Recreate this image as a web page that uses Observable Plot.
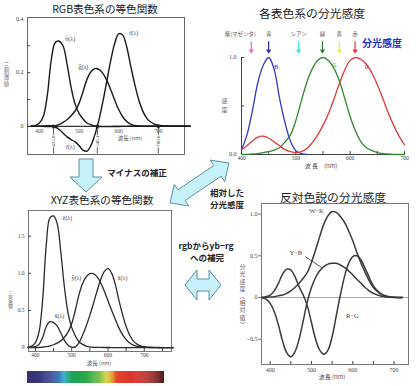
<!DOCTYPE html>
<html><head><meta charset="utf-8">
<script src="https://cdn.jsdelivr.net/npm/d3@7"></script>
<script src="https://cdn.jsdelivr.net/npm/@observablehq/plot@0.6"></script>
<style>
body{margin:0;background:#fff;}
#root{position:relative;width:416px;height:386px;overflow:hidden;background:#fff;font-family:"Noto Sans CJK JP",sans-serif;}
.abs{position:absolute;white-space:nowrap;line-height:1;}
.title{color:#1a1a1a;transform:translate(-50%,-50%);}
.note{font-size:8.5px;font-weight:bold;color:#222;transform:translate(-50%,-50%);}
.vert{color:#666;writing-mode:vertical-rl;text-orientation:upright;}
.axt{font-size:6px;color:#555;transform:translate(-50%,-50%);}
</style></head><body><div id="root"></div>
<script>
// ---------- data ----------
const WL_CIE = [380,390,400,410,420,430,440,450,460,470,480,490,500,510,520,530,540,550,560,570,580,590,600,610,620,630,640,650,660,670,680,690,700,710,720,730,740,750,760,770,780];
const rBar = [0.00003,0.0001,0.0003,0.00084,0.00211,0.00218,-0.00261,-0.01213,-0.02608,-0.03933,-0.04939,-0.05814,-0.07173,-0.08901,-0.09264,-0.07101,-0.03152,0.02279,0.0906,0.16768,0.24526,0.30928,0.34429,0.33971,0.29708,0.22677,0.15968,0.10167,0.05932,0.03149,0.01687,0.00819,0.0041,0.0021,0.00105,0.00052,0.00025,0.00012,0.00006,0.00003,0];
const gBar = [-0.00001,-0.00004,-0.00014,-0.00041,-0.0011,-0.00119,0.00149,0.00678,0.01485,0.02538,0.03914,0.05689,0.08536,0.1286,0.17468,0.20317,0.21466,0.21178,0.19702,0.17087,0.1361,0.09754,0.06246,0.03557,0.01828,0.00833,0.00334,0.00116,0.00037,0.00011,0.00003,0.00001,0,0,0,0,0,0,0,0,0];
const bBar = [0.00117,0.00359,0.01214,0.03707,0.11541,0.24769,0.31228,0.3167,0.29821,0.22991,0.14494,0.08257,0.04776,0.02698,0.01221,0.00549,0.00146,-0.00058,-0.0013,-0.00135,-0.00108,-0.00079,-0.00049,-0.0003,-0.00015,-0.00008,-0.00003,-0.00001,0,0,0,0,0,0,0,0,0,0,0,0,0];
const xBar = [0.001368,0.004243,0.01431,0.04351,0.13438,0.2839,0.34828,0.3362,0.2908,0.19536,0.09564,0.03201,0.0049,0.0093,0.06327,0.1655,0.2904,0.43345,0.5945,0.7621,0.9163,1.0263,1.0622,1.0026,0.85445,0.6424,0.4479,0.2835,0.1649,0.0874,0.04677,0.0227,0.011359,0.00579,0.002899,0.00144,0.00069,0.000332,0.000166,0.000083,0.000042];
const yBar = [0.000039,0.00012,0.000396,0.00121,0.004,0.0116,0.023,0.038,0.06,0.09098,0.13902,0.20802,0.323,0.503,0.71,0.862,0.954,0.99495,0.995,0.952,0.87,0.757,0.631,0.503,0.381,0.265,0.175,0.107,0.061,0.032,0.017,0.00821,0.004102,0.002091,0.001047,0.00052,0.000249,0.00012,0.00006,0.00003,0.000015];
const zBar = [0.00645,0.02005,0.06785,0.2074,0.6456,1.3856,1.74706,1.77211,1.6692,1.28764,0.81295,0.46518,0.272,0.1582,0.07825,0.04216,0.0203,0.00875,0.0039,0.0021,0.00165,0.0011,0.0008,0.00034,0.00019,0.00005,0.00002,0,0,0,0,0,0,0,0,0,0,0,0,0,0];

const WL_SENS = [400,410,420,430,440,450,460,470,480,490,500,510,520,530,540,550,560,570,580,590,600,610,620,630,640,650,660,670,680,690,700];
const sensB = [0.05,0.2,0.45,0.74,0.92,1.0,0.88,0.58,0.33,0.14,0.04,0.01,0];
const sensG = [0,0.002,0.005,0.01,0.02,0.03,0.045,0.07,0.13,0.2,0.35,0.55,0.74,0.88,0.97,1.0,0.97,0.89,0.76,0.58,0.39,0.24,0.13,0.07,0.04,0.02,0.01,0.005,0.002,0,0];
const sensR = [0.05,0.09,0.14,0.18,0.19,0.17,0.13,0.09,0.05,0.03,0.02,0.03,0.06,0.12,0.2,0.3,0.42,0.57,0.73,0.87,0.97,1.0,0.98,0.93,0.84,0.72,0.58,0.43,0.3,0.19,0.1];

const WL_OPP = [380,390,400,410,420,430,440,450,460,470,480,490,500,510,520,530,540,550,560,570,580,590,600,610,620,630,640,650,660,670,680,690,700,710,720];
const oppWK = [0,0.002,0.005,0.01,0.02,0.03,0.05,0.08,0.12,0.17,0.23,0.3,0.42,0.57,0.73,0.88,0.98,1.03,1.02,0.97,0.9,0.8,0.68,0.54,0.41,0.3,0.2,0.12,0.07,0.035,0.015,0.006,0.002,0.001,0];
const oppYB = [0,-0.02,-0.07,-0.17,-0.33,-0.52,-0.66,-0.71,-0.65,-0.5,-0.28,-0.05,0.12,0.24,0.32,0.37,0.4,0.41,0.41,0.39,0.36,0.32,0.27,0.22,0.17,0.12,0.08,0.05,0.03,0.015,0.007,0.003,0.001,0,0];
const oppRG = [0,0.01,0.03,0.08,0.17,0.28,0.34,0.33,0.25,0.13,0.03,-0.1,-0.3,-0.5,-0.63,-0.68,-0.63,-0.47,-0.22,0.03,0.25,0.41,0.49,0.5,0.45,0.35,0.24,0.14,0.08,0.04,0.02,0.008,0.003,0.001,0];

const ticksNm = [400,500,600,700];
const refWavelengths = [435.8, 546.1, 700.0];
const rgbLabels = [{t:"b\u0304(λ)", w:478, v:0.326},{t:"g\u0304(λ)", w:511, v:0.222},{t:"r\u0304(λ)", w:638, v:0.348},{t:"r\u0304(λ)", w:478, v:-0.078}];
const hueNames = ["紫(マゼンタ)","青","シアン","緑","黄","赤"];
const hueWavelengths = [418,450,505,549,580,609];
const hueColors = ["#f060c8","#2a2a90","#40e0e0","#2a7a2a","#f0f030","#f03030"];
const sensLabels = [{t:"B", w:464, v:0.9, c:"#3333cc"},{t:"G", w:571, v:0.92, c:"#2a8a2a"},{t:"R", w:631, v:0.9, c:"#dd3333"}];
const xyzLabels = [{t:"z\u0304(λ)", w:488, v:1.75},{t:"y\u0304(λ)", w:513, v:0.94},{t:"x\u0304(λ)", w:640, v:0.93},{t:"x\u0304(λ)", w:466, v:0.42}];
const oppLabels = [{t:"W−K", w:512, v:1.04},{t:"Y−B", w:462, v:0.53},{t:"R−G", w:599, v:-0.22}];
const spectrumStops = [[0,"#3a2f6e"],[0.17,"#36408f"],[0.23,"#2462b0"],[0.27,"#2aa6c8"],[0.32,"#1fa15a"],[0.44,"#2aa845"],[0.53,"#6ab83a"],[0.58,"#d2d232"],[0.62,"#e59a2a"],[0.65,"#e2452a"],[0.8,"#d8302a"],[0.88,"#b02424"],[1,"#4a1a1a"]];

// ---------- helpers ----------
const root = document.getElementById("root");
const SERIF = "'Liberation Serif','DejaVu Serif',serif";
const CJK = "'Noto Sans CJK JP',sans-serif";
function tidy(wl, series){return Object.entries(series).flatMap(([s,vals])=>vals.map((v,i)=>({w:wl[i],v,s})));}
function place(el,left,top){el.style.position="absolute";el.style.left=left+"px";el.style.top=top+"px";root.appendChild(el);}
function label(text,cls,x,y,extra){const d=document.createElement("div");d.className="abs "+cls;d.textContent=text;d.style.left=x+"px";d.style.top=y+"px";if(extra)Object.assign(d.style,extra);root.appendChild(d);return d;}
const baseStyle = {background:"transparent",fontFamily:SERIF,fontSize:"6px",color:"#444",overflow:"visible"};

// ---------- Panel 1: RGB ----------
const p1 = Plot.plot({
  width:200,height:165,marginLeft:27,marginRight:16,marginTop:17,marginBottom:11,
  style:baseStyle,
  x:{domain:[370,766],axis:null},y:{domain:[-0.105,0.405],axis:null},
  marks:[
    Plot.frame({stroke:"#666"}),
    Plot.ruleY([0],{stroke:"#333",strokeWidth:1.2}),
    Plot.axisY({ticks:[0,0.2,0.4],tickSize:0,tickPadding:4,tickFormat:d=>d===0?"0":d.toFixed(1),label:null}),
    Plot.axisY({ticks:[0.1,0.2,0.3],tickSize:-3,fill:"none",label:null}),
    Plot.text(ticksNm,{x:d=>d,y:0,dy:5,text:d=>String(d),fill:"#555",fontSize:5.5}),
    Plot.line(tidy(WL_CIE,{r:rBar,g:gBar,b:bBar}),{x:"w",y:"v",z:"s",stroke:"#1a1a1a",strokeWidth:1.4,curve:"catmull-rom"}),
    Plot.arrow(refWavelengths,{x:d=>d,y1:-0.1,y2:0,stroke:"#333",strokeWidth:0.8,headLength:4}),
    Plot.dot(refWavelengths,{x:d=>d,y:0,r:1.8,fill:"#222"}),
    Plot.text(refWavelengths,{x:d=>d,y:-0.055,text:d=>d.toFixed(1),rotate:-90,fontSize:5,fill:"#333",stroke:"white",strokeWidth:2}),
    Plot.text(rgbLabels,{x:"w",y:"v",text:"t",fontSize:6,fill:"#444"})
  ]
});
place(p1,0,0);

// ---------- Panel 2: sensitivities ----------
const hues = hueNames.map((n,i)=>({n,w:hueWavelengths[i],c:hueColors[i]}));
const p2 = Plot.plot({
  width:200,height:150,marginLeft:26,marginRight:11,marginTop:37,marginBottom:16,
  style:baseStyle,
  color:{type:"identity"},
  x:{domain:[400,700],axis:null},y:{domain:[0,1],axis:null},
  marks:[
    Plot.ruleX([400],{stroke:"#444"}),
    Plot.ruleY([0],{stroke:"#444"}),
    Plot.axisY({ticks:[0,1],tickSize:0,tickPadding:5,label:null}),
    Plot.axisY({ticks:[0,0.5,1],tickSize:-3,fill:"none",label:null}),
    Plot.axisX({ticks:ticksNm,tickSize:0,tickPadding:2,label:null,fontSize:5.5}),
    Plot.axisX({ticks:[400,450,500,550,600,650,700],tickSize:-3,fill:"none",label:null}),
    Plot.line(WL_SENS.slice(0,sensB.length).map((w,i)=>({w,v:sensB[i]})),{x:"w",y:"v",stroke:"#3535c8",strokeWidth:1.3,curve:"catmull-rom"}),
    Plot.line(WL_SENS.map((w,i)=>({w,v:sensG[i]})),{x:"w",y:"v",stroke:"#2f8a2f",strokeWidth:1.3,curve:"catmull-rom"}),
    Plot.line(WL_SENS.map((w,i)=>({w,v:sensR[i]})),{x:"w",y:"v",stroke:"#dd3a3a",strokeWidth:1.3,curve:"catmull-rom"}),
    Plot.text(sensLabels,{x:"w",y:"v",text:"t",fill:"c",fontSize:6.5}),
    Plot.arrow(hues,{x:"w",y1:1.165,y2:1.05,stroke:"c",strokeWidth:1.2,headLength:4}),
    Plot.text(hues.slice(1),{x:"w",y:1.237,text:"n",fontSize:5.5,fill:"#555",fontFamily:CJK}),
    Plot.text(hues.slice(0,1),{x:"w",y:1.237,dx:-11,text:"n",fontSize:5.5,fill:"#555",fontFamily:CJK})
  ]
});
place(p2,215,20);

// ---------- Panel 3: XYZ ----------
const p3 = Plot.plot({
  width:200,height:165,marginLeft:28,marginRight:29,marginTop:10,marginBottom:14,
  style:baseStyle,
  x:{domain:[381,775],axis:null},y:{domain:[-0.053,1.846],axis:null},
  marks:[
    Plot.frame({stroke:"#777"}),
    Plot.axisY({ticks:[0,0.5,1,1.5],tickSize:0,tickPadding:4,tickFormat:d=>d===0?"0":d.toFixed(1),label:null,fontSize:5.5}),
    Plot.axisY({ticks:[0,0.5,1,1.5],tickSize:-3,fill:"none",label:null}),
    Plot.axisX({ticks:ticksNm,tickSize:0,tickPadding:2,label:null,fontSize:5.5}),
    Plot.axisX({ticks:[400,450,500,550,600,650,700,750],tickSize:-3,fill:"none",label:null}),
    Plot.line(tidy(WL_CIE,{x:xBar,y:yBar,z:zBar}),{x:"w",y:"v",z:"s",stroke:"#2a2a2a",strokeWidth:1.3,curve:"catmull-rom"}),
    Plot.text(xyzLabels,{x:"w",y:"v",text:"t",fontSize:6,fill:"#444"})
  ]
});
place(p3,0,200);

// ---------- spectrum strip ----------
const interp = d3.piecewise(d3.interpolateRgb, spectrumStops.map(s=>s[1]));
const stopDomain = spectrumStops.map(s=>s[0]);
const spectrumScale = d3.scaleLinear().domain(stopDomain).range(stopDomain.map((_,i)=>i/(stopDomain.length-1)));
const stripCells = d3.range(0,1,1/140);
const pS = Plot.plot({
  width:137,height:12,margin:0,style:{background:"transparent"},
  color:{type:"identity"},
  x:{domain:[0,1],axis:null},y:{domain:[0,1],axis:null},
  marks:[Plot.rect(stripCells,{x1:d=>d,x2:d=>d+1/140+0.002,y1:0,y2:1,fill:d=>interp(spectrumScale(d+0.5/140))})]
});
place(pS,27,371);

// ---------- Panel 4: opponent ----------
const p4 = Plot.plot({
  width:191,height:185,marginLeft:36,marginRight:8,marginTop:8,marginBottom:16,
  style:baseStyle,
  x:{domain:[379,735],axis:null},y:{domain:[-0.803,1.127],axis:null},
  marks:[
    Plot.frame({stroke:"#777"}),
    Plot.ruleY([0],{stroke:"#aaa"}),
    Plot.axisY({ticks:[-0.5,0,0.5,1],tickSize:3,tickPadding:1,tickFormat:d=>d===0?"0":d<0?"−"+(-d).toFixed(1):d.toFixed(1),label:null,stroke:"#777"}),
    Plot.axisX({ticks:ticksNm,tickSize:0,tickPadding:3,label:null}),
    Plot.axisX({ticks:[400,450,500,550,600,650,700],tickSize:-3,fill:"none",label:null}),
    Plot.line(tidy(WL_OPP,{wk:oppWK,yb:oppYB,rg:oppRG}),{x:"w",y:"v",z:"s",stroke:"#3a3a3a",strokeWidth:1.5,curve:"catmull-rom"}),
    Plot.link([{x1:485,y1:0.49,x2:528,y2:0.35}],{x1:"x1",y1:"y1",x2:"x2",y2:"y2",stroke:"#444",strokeWidth:0.9}),
    Plot.text(oppLabels,{x:"w",y:"v",text:"t",fontSize:6.5,fill:"#444"})
  ]
});
place(p4,225,195);

// ---------- titles & notes ----------
label("RGB表色系の等色関数","title",105,9,{fontSize:"10.6px"});
label("各表色系の分光感度","title",312,13,{fontSize:"11.8px"});
label("XYZ表色系の等色関数","title",102,200,{fontSize:"10.6px"});
label("反対色説の分光感度","title",333,197,{fontSize:"11.8px"});
label("分光感度","abs",362,38,{fontSize:"10px",fontWeight:"bold",color:"#2233cc"});
label("マイナスの補正","note",137,172,{});
label("相対した","note",227,192,{});
label("分光感度","note",227,204,{});
label("rgbからyb−rg","note",206,245,{});
label("への補完","note",207,257,{});
// axis titles
label("波長 (nm)","axt",130,139,{fontSize:"5.5px"});
label("波 長　(nm)","axt",321,166,{});
label("波長 (nm)","axt",99,364,{fontSize:"5.5px"});
label("波長 (nm)","axt",332,377,{});
label("三刺激値","vert",3,62,{fontSize:"5.5px",letterSpacing:"0.8px"});
label("感度","vert",221,98,{fontSize:"6px",letterSpacing:"3px"});
label("三刺激値","vert",8,291,{fontSize:"4.5px"});
label("分光感度︵相対値︶","vert",239,264,{fontSize:"6px",letterSpacing:"1.2px"});

// ---------- block arrows (decoration) ----------
function arrowPts(x1,y1,x2,y2,sh,hh,hl,dbl){
  const dx=x2-x1,dy=y2-y1,L=Math.hypot(dx,dy),ux=dx/L,uy=dy/L,px=-uy,py=ux;
  const P=(t,s)=>[(x1+ux*t+px*s).toFixed(1),(y1+uy*t+py*s).toFixed(1)].join(",");
  const pts = dbl
    ? [P(0,0),P(hl,hh),P(hl,sh),P(L-hl,sh),P(L-hl,hh),P(L,0),P(L-hl,-hh),P(L-hl,-sh),P(hl,-sh),P(hl,-hh)]
    : [P(0,sh),P(L-hl,sh),P(L-hl,hh),P(L,0),P(L-hl,-hh),P(L-hl,-sh),P(0,-sh)];
  return pts.join(" ");
}
const ns="http://www.w3.org/2000/svg";
const ov=document.createElementNS(ns,"svg");
ov.setAttribute("width",416);ov.setAttribute("height",386);
[[86,159,86,192,7,16,15,false],[170,203,229,163,6.5,13,14,true],[185,285,221,285,6,15,12,true]].forEach(a=>{
  const pg=document.createElementNS(ns,"polygon");
  pg.setAttribute("points",arrowPts(...a));
  pg.setAttribute("fill","#c8f2fa");pg.setAttribute("stroke","#5c8ea0");pg.setAttribute("stroke-width","1");
  ov.appendChild(pg);
});
place(ov,0,0);
</script></body></html>
